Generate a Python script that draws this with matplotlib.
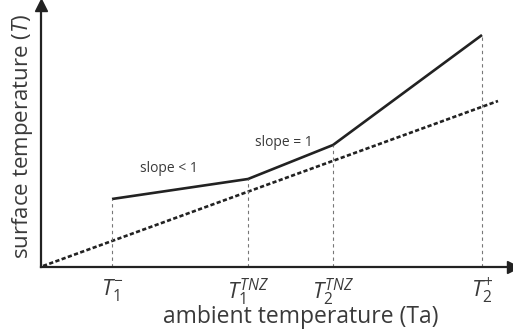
import matplotlib.pyplot as plt

plt.rcParams['font.family'] = ['Open Sans', 'DejaVu Sans']
plt.rcParams['mathtext.fontset'] = 'custom'
plt.rcParams['mathtext.it'] = 'Open Sans:italic'
plt.rcParams['mathtext.rm'] = 'Open Sans'

## schematic data
knot_x = [7.1, 20.7, 29.2, 44.1]          # T1-, T1TNZ, T2TNZ, T2+
surface_y = [6.8, 8.8, 12.2, 23.2]
ref_x = [0.2, 45.7]
ref_y = [0.1, 16.6]
tick_labels = [r'$T_1^{-}$', r'$T_1^{TNZ}$', r'$T_2^{TNZ}$', r'$T_2^{+}$']

txt = '#3a3a3a'

fig = plt.figure(figsize=(5.13, 3.33), dpi=100)
ax = fig.add_axes([41 / 513, 66 / 333, 472 / 513, 262 / 333])
ax.set_xlim(0, 47.2)
ax.set_ylim(0, 26.2)

ax.plot(ref_x, ref_y, color='#222222', lw=1.9, linestyle=(0, (1.6, 0.9)))
ax.plot(knot_x, surface_y, color='#222222', lw=1.9, solid_capstyle='butt')
for xv, yv in zip(knot_x, surface_y):
    ax.plot([xv, xv], [0, yv], color='#777777', lw=0.8, linestyle=(0, (3, 3)))

ax.text(9.9, 9.9, 'slope < 1', fontsize=10, color=txt, va='center')
ax.text(21.4, 12.5, 'slope = 1', fontsize=10, color=txt, va='center')

ax.set_xticks(knot_x)
ax.set_xticklabels(tick_labels, fontsize=16, color=txt)
ax.tick_params(axis='x', length=0, pad=7)
ax.set_yticks([])
ax.set_xlabel('ambient temperature (Ta)', fontsize=16.5, color=txt)
ax.xaxis.set_label_coords(0.551, -0.145)
ax.set_ylabel(r'surface temperature ($T$)', fontsize=16, color=txt, labelpad=4)

for s in ['top', 'right']:
    ax.spines[s].set_visible(False)
for s in ['left', 'bottom']:
    ax.spines[s].set_linewidth(1.6)
    ax.spines[s].set_color('#222222')
ax.plot(1, 0, '>', color='#222222', ms=8, transform=ax.transAxes, clip_on=False)
ax.plot(0, 1, '^', color='#222222', ms=8, transform=ax.transAxes, clip_on=False)

plt.savefig('out.png', dpi=100)
